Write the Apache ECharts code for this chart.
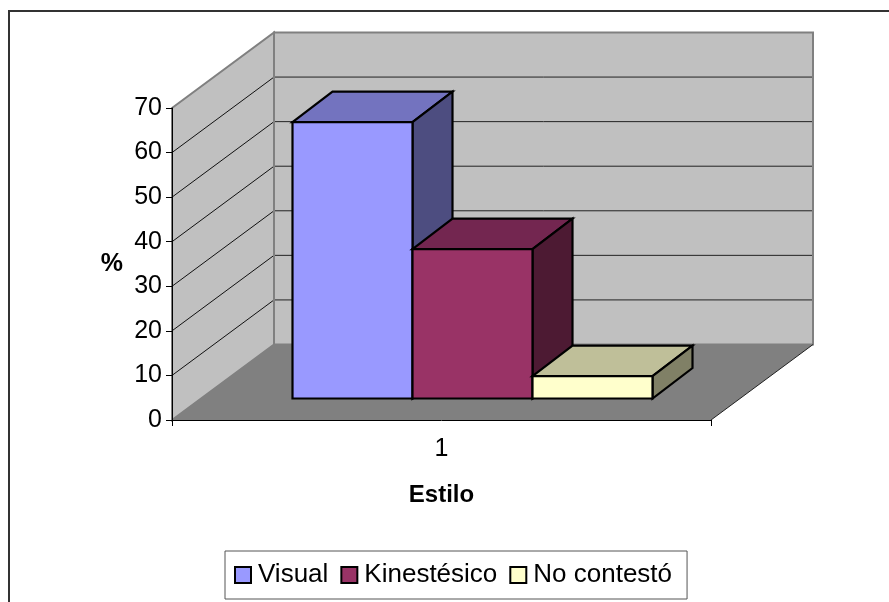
<!DOCTYPE html>
<html>
<head>
<meta charset="utf-8">
<style>html,body{margin:0;padding:0;background:#fff}#chart{width:889px;height:602px}</style>
<script src="https://cdn.jsdelivr.net/npm/echarts@6/dist/echarts.min.js"></script>
</head>
<body>
<div id="chart"></div>
<script>
// Survey results by learning style, shown as a pseudo-3D column chart.
const categories = ['1'];
const seriesNames = ['Visual', 'Kinestésico', 'No contestó'];
const visualValues = [62];
const kinestheticValues = [33.5];
const noAnswerValues = [5];
const yTicks = [0, 10, 20, 30, 40, 50, 60, 70];

const FONT = '"Liberation Sans", Arial, sans-serif';

// Projection of the box: wall depth, and where the columns sit inside it.
const WALL_DX = 102, WALL_DY = 75.5;
const BAR_W = 120, BAR_DX = 40, BAR_DY = 30.5;
const BAR_SHIFT_X = 31, BAR_SHIFT_Y = 21.5;

const faces = [
  { front: '#9999ff', top: '#7373bf', side: '#4d4d80' },
  { front: '#993366', top: '#732650', side: '#4d1a33' },
  { front: '#ffffcc', top: '#bfbf99', side: '#808066' }
];

function poly(points, fill, stroke, lineWidth) {
  return {
    type: 'polygon',
    shape: { points },
    style: { fill, stroke: stroke || 'none', lineWidth: lineWidth || 0, lineJoin: 'miter' }
  };
}
function seg(x1, y1, x2, y2, stroke, lineWidth) {
  return {
    type: 'line',
    shape: { x1, y1, x2, y2 },
    style: { stroke, lineWidth }
  };
}

// Walls, floor and gridlines of the box behind the columns.
function renderWalls(params, api) {
  const c = params.coordSys;
  const l = c.x, r = c.x + c.width, b = c.y + c.height, t = c.y;
  const dx = WALL_DX, dy = WALL_DY;
  const kids = [
    poly([[l + dx, t - dy], [r + dx, t - dy], [r + dx, b - dy], [l + dx, b - dy]], '#c0c0c0', '#808080', 2),
    poly([[l, t], [l + dx, t - dy], [l + dx, b - dy], [l, b]], '#c0c0c0', '#808080', 2),
    poly([[l, b], [l + dx, b - dy], [r + dx, b - dy], [r, b]], '#808080')
  ];
  yTicks.forEach(v => {
    if (v === 0 || v === 70) return;
    const y = api.coord([0, v])[1];
    kids.push(seg(l, y, l + dx, y - dy, '#111', 1));
    kids.push(seg(l + dx + 1, y - dy, r + dx - 1, y - dy, '#222', 1));
  });
  // Wall edge lines redrawn above the gridline ends, floor edges in black.
  kids.push(seg(l + dx, t - dy, l + dx, b - dy, '#808080', 2));
  kids.push(seg(r + dx, t - dy, r + dx, b - dy, '#808080', 2));
  kids.push(seg(r, b, r + dx, b - dy, '#222', 1));
  return { type: 'group', children: kids };
}

// One column per series, side by side within the single category.
function barRenderer(index) {
  return function (params, api) {
    const base = api.coord([api.value(0), 0]);
    const top = api.coord([api.value(0), api.value(1)]);
    const x0 = base[0] + BAR_SHIFT_X + (index - 1.5) * BAR_W;
    const x1 = x0 + BAR_W;
    const yb = base[1] - BAR_SHIFT_Y;
    const yt = top[1] - BAR_SHIFT_Y;
    const f = faces[index];
    const lw = 2.2;
    return {
      type: 'group',
      children: [
        poly([[x0, yt], [x0 + BAR_DX, yt - BAR_DY], [x1 + BAR_DX, yt - BAR_DY], [x1, yt]], f.top, '#000', lw),
        poly([[x1, yt], [x1 + BAR_DX, yt - BAR_DY], [x1 + BAR_DX, yb - BAR_DY], [x1, yb]], f.side, '#000', lw),
        poly([[x0, yt], [x1, yt], [x1, yb], [x0, yb]], f.front, '#000', lw)
      ]
    };
  };
}

function barSeries(index, values) {
  return {
    type: 'custom',
    name: seriesNames[index],
    coordinateSystem: 'cartesian2d',
    z: 3 + index,
    silent: true,
    itemStyle: { color: faces[index].front, borderColor: '#000', borderWidth: 2 },
    renderItem: barRenderer(index),
    encode: { x: 0, y: 1 },
    data: values.map((v, i) => [i, v])
  };
}

const chart = echarts.init(document.getElementById('chart'), null, { renderer: 'canvas' });
chart.setOption({
  animation: false,
  backgroundColor: '#ffffff',
  grid: { left: 172, top: 108, width: 539, height: 312 },
  xAxis: {
    type: 'category',
    data: categories,
    z: 10,
    name: 'Estilo',
    nameLocation: 'middle',
    nameGap: 63,
    nameTextStyle: { fontFamily: FONT, fontSize: 24, fontWeight: 'bold', color: '#000' },
    axisLine: { lineStyle: { color: '#000', width: 1 } },
    axisTick: { show: true, length: 6, lineStyle: { color: '#000' } },
    axisLabel: { fontFamily: FONT, fontSize: 25, color: '#000', margin: 17 }
  },
  yAxis: {
    type: 'value',
    min: 0,
    max: 70,
    interval: 10,
    z: 10,
    name: '%',
    nameLocation: 'middle',
    nameGap: 49,
    nameRotate: 0,
    nameTextStyle: { fontFamily: FONT, fontSize: 25, fontWeight: 'bold', color: '#000', padding: [5, 0, 0, 0] },
    splitLine: { show: false },
    axisLine: { show: true, lineStyle: { color: '#000', width: 1 } },
    axisTick: { show: true, length: 6, lineStyle: { color: '#000' } },
    axisLabel: { fontFamily: FONT, fontSize: 25, color: '#000', margin: 10, padding: [5, 0, 0, 0] }
  },
  legend: {
    data: seriesNames,
    left: 225,
    top: 551,
    orient: 'horizontal',
    backgroundColor: '#fff',
    borderColor: '#555',
    borderWidth: 1,
    padding: [11, 15, 11, 9],
    itemWidth: 16,
    itemHeight: 16,
    itemGap: 12,
    icon: 'rect',
    selectedMode: false,
    textStyle: { fontFamily: FONT, fontSize: 26, color: '#000', padding: [0, 0, 6, 2] }
  },
  graphic: [
    {
      type: 'polyline',
      silent: true,
      shape: { points: [[9, 602], [9, 11], [889, 11]] },
      style: { stroke: '#333', lineWidth: 2, fill: 'none' }
    }
  ],
  series: [
    {
      type: 'custom',
      name: 'walls',
      coordinateSystem: 'cartesian2d',
      z: 1,
      silent: true,
      renderItem: renderWalls,
      data: [[0, 0]]
    },
    barSeries(0, visualValues),
    barSeries(1, kinestheticValues),
    barSeries(2, noAnswerValues)
  ]
});
</script>
</body>
</html>
